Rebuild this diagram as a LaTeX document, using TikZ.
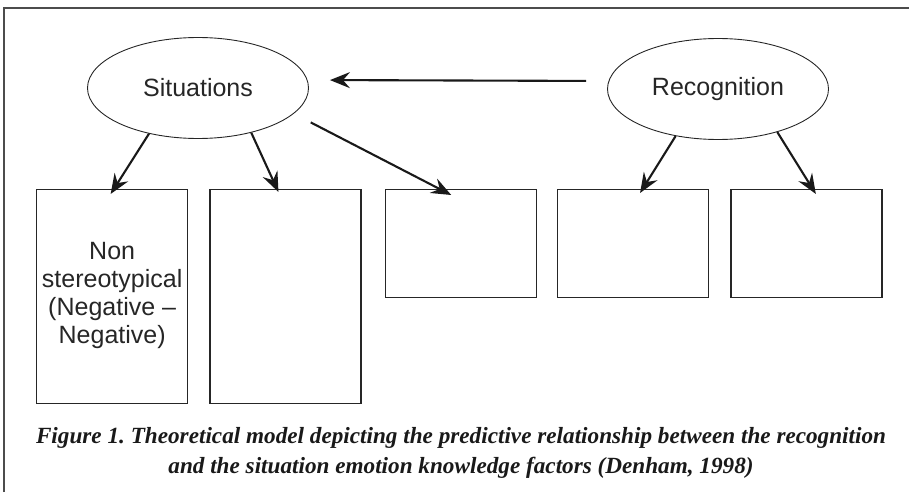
\documentclass[tikz,border=0pt]{standalone}
\usepackage{fontspec}
\setmainfont{Liberation Serif}
\newfontfamily\labelfont{Liberation Sans}
\usetikzlibrary{positioning,shapes,arrows.meta}
\frenchspacing

\tikzset{
	factor/.style={ellipse, draw=black!85, line width=0.9pt, minimum width=221pt, minimum height=101pt, inner sep=0pt, text=black!85, font=\labelfont\fontsize{25}{29}\selectfont},
	kbox/.style={draw=black!85, line width=1.3pt, minimum width=151pt, inner sep=0pt, align=center, text=black!85, font=\labelfont\fontsize{25}{28}\selectfont},
	tallbox/.style={kbox, minimum height=214pt},
	shortbox/.style={kbox, minimum height=108pt},
	pred/.style={line width=2.1pt, draw=black!90, -{Stealth[length=20pt, width=16pt, inset=7pt]}},
}

\begin{document}
\begin{tikzpicture}[x=1pt, y=-1pt]
	\useasboundingbox (0,0) rectangle (909,492);
	%Marco
	\draw[black!70, line width=1.5pt] (4,492) -- (4,8) -- (909,8);

	%Factores
	\node[factor] (sit) at (198,88) {Situations};
	\node[factor] (rec) at (718,89) {Recognition};

	%Cajas
	\node[tallbox, anchor=north west] (box1) at (36,189) {\mbox{}\\[-14pt]Non\\stereotypical\\(Negative \textendash\\Negative)};
	\node[tallbox, right=21pt of box1.north east, anchor=north west] (box2) {};
	\node[shortbox, right=23pt of box2.north east, anchor=north west] (box3) {};
	\node[shortbox, right=20pt of box3.north east, anchor=north west] (box4) {};
	\node[shortbox, right=21pt of box4.north east, anchor=north west] (box5) {};

	%Flechas
	\draw[pred, shorten <=21pt, shorten >=21pt] ([yshift=8pt]rec.west) -- ([yshift=8pt]sit.east);
	\draw[pred] (sit.223) -- ([shift={(-1.5pt,-5pt)}]box1.north);
	\draw[pred] (sit.320) -- ([shift={(-7pt,-3pt)}]box2.north);
	\draw[pred, shorten <=19pt] (sit.345) -- ([shift={(-9.5pt,-6pt)}]box3.north);
	\draw[pred] (rec.228) -- ([shift={(7pt,-4pt)}]box4.north);
	\draw[pred] (rec.324) -- ([shift={(9.5pt,-5pt)}]box5.north);

	%Pie de figura
	\node[align=center, text=black!90, font=\bfseries\itshape\fontsize{23.2}{29.5}\selectfont] (caption) at (461,453)
		{Figure 1. Theoretical model depicting the predictive relationship between the recognition\\
		 and the situation emotion knowledge factors (Denham, 1998)};
\end{tikzpicture}
\end{document}
